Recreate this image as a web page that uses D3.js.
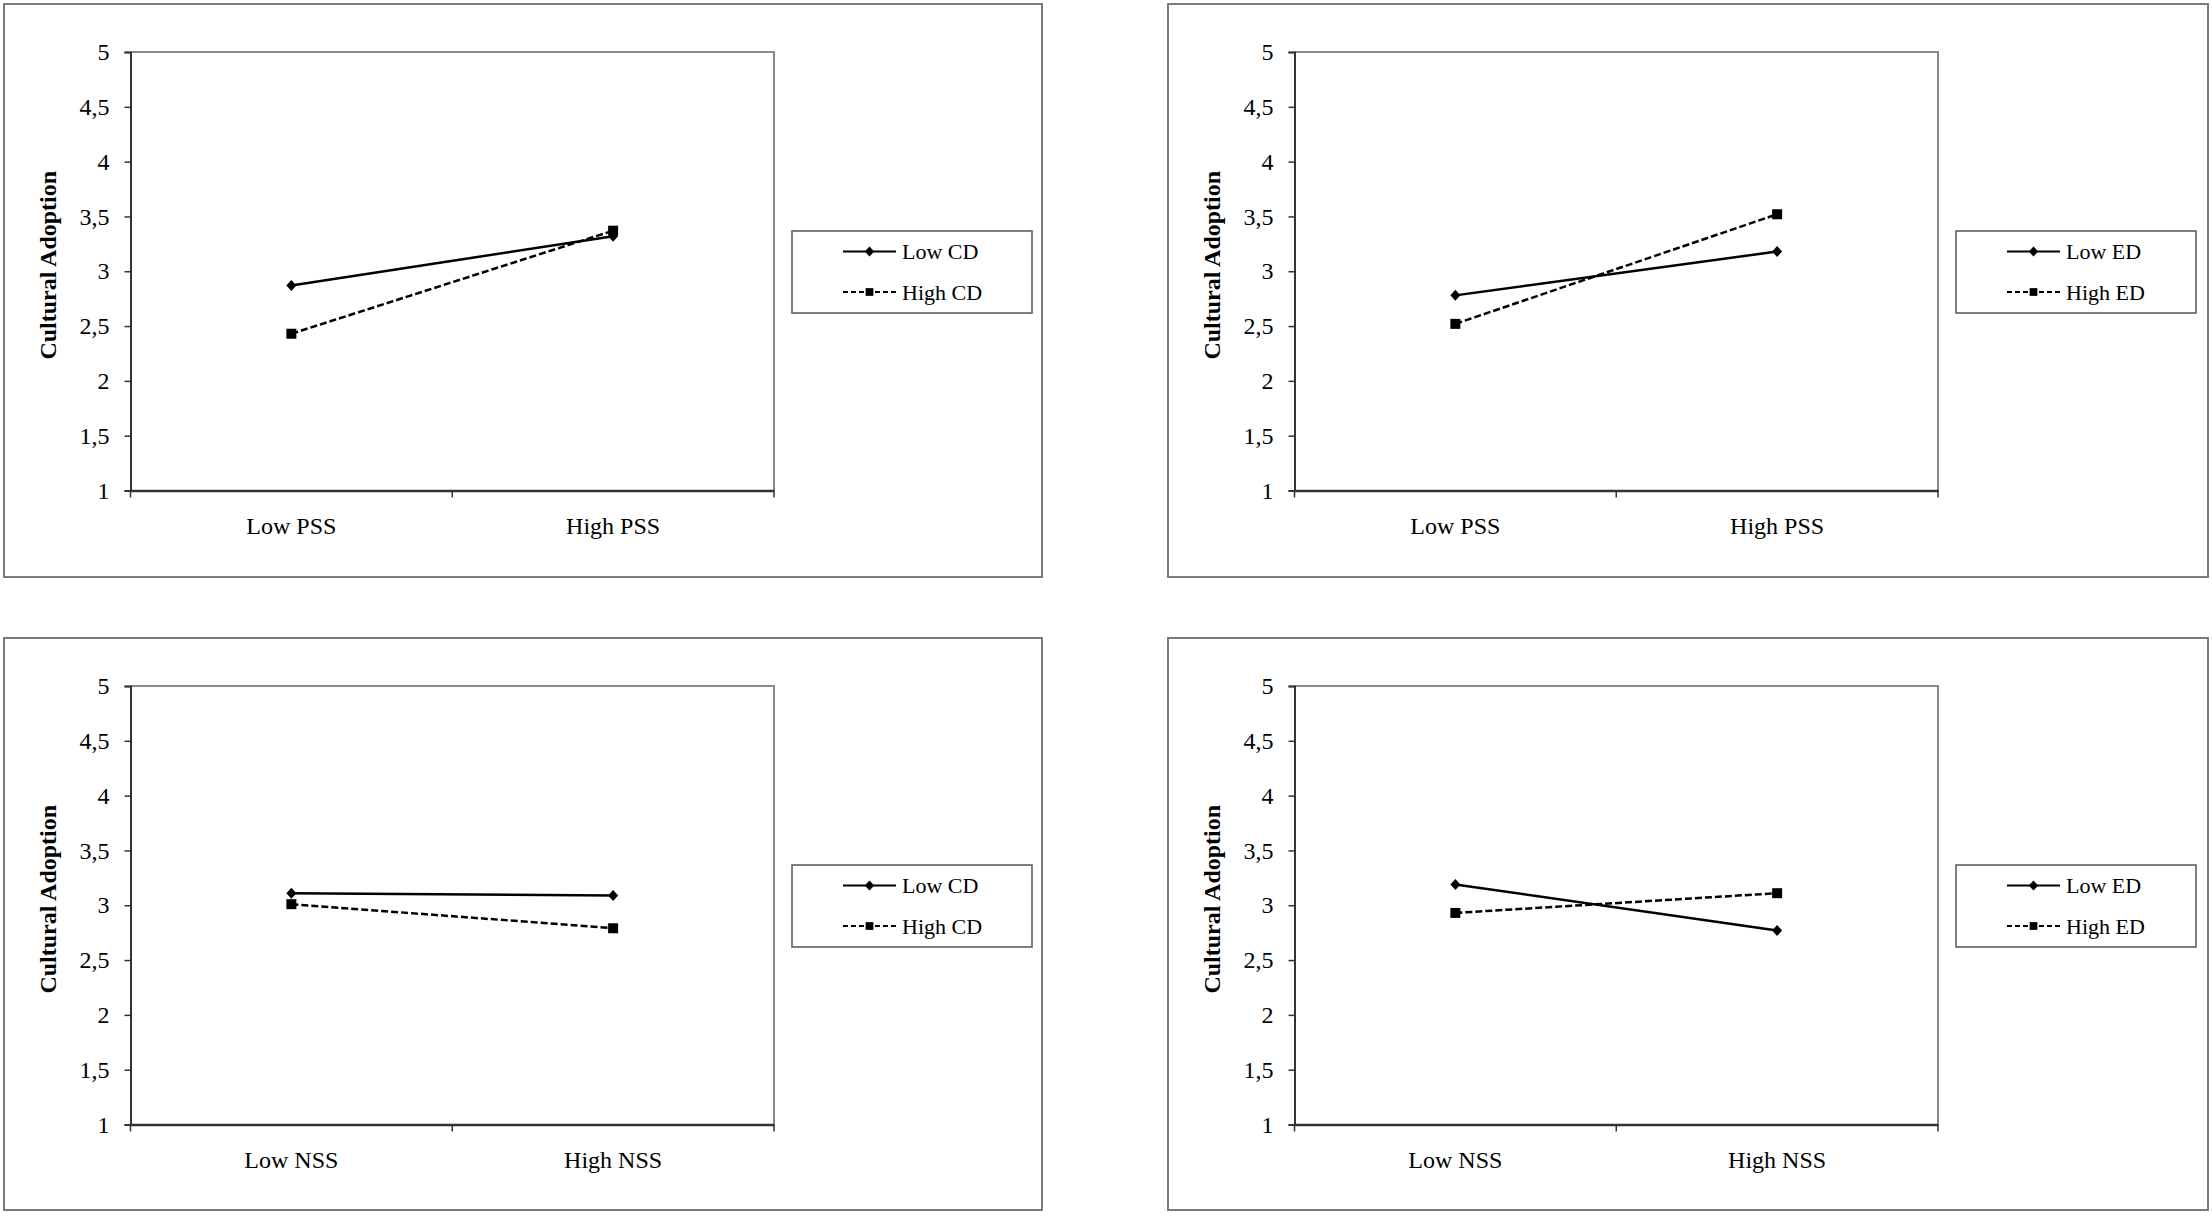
<!DOCTYPE html>
<html>
<head>
<meta charset="utf-8">
<script src="https://cdn.jsdelivr.net/npm/d3@7"></script>
<style>
  html, body { margin: 0; padding: 0; background: #ffffff; }
  svg { display: block; }
  text { font-family: "Liberation Serif", "Times New Roman", serif; fill: #000; }
</style>
</head>
<body>
<svg id="chart" width="2212" height="1216"></svg>
<script>
// ---------------- DATA ----------------
const catsPSS = ["Low PSS", "High PSS"];
const catsNSS = ["Low NSS", "High NSS"];
const yTickValues = [1, 1.5, 2, 2.5, 3, 3.5, 4, 4.5, 5];
const yTickLabels = ["1", "1,5", "2", "2,5", "3", "3,5", "4", "4,5", "5"];
const yTitle = "Cultural Adoption";

const seriesNamesCD = ["Low CD", "High CD"];
const seriesNamesED = ["Low ED", "High ED"];

// Panel A: PSS x CD
const lowCD_PSS  = [2.87, 3.32];
const highCD_PSS = [2.43, 3.37];
// Panel B: PSS x ED
const lowED_PSS  = [2.78, 3.18];
const highED_PSS = [2.52, 3.52];
// Panel C: NSS x CD
const lowCD_NSS  = [3.11, 3.09];
const highCD_NSS = [3.01, 2.79];
// Panel D: NSS x ED
const lowED_NSS  = [3.19, 2.77];
const highED_NSS = [2.93, 3.11];

const panels = [
  { cats: catsPSS, names: seriesNamesCD, series: [lowCD_PSS, highCD_PSS], col: 0, row: 0 },
  { cats: catsPSS, names: seriesNamesED, series: [lowED_PSS, highED_PSS], col: 1, row: 0 },
  { cats: catsNSS, names: seriesNamesCD, series: [lowCD_NSS, highCD_NSS], col: 0, row: 1 },
  { cats: catsNSS, names: seriesNamesED, series: [lowED_NSS, highED_NSS], col: 1, row: 1 }
];

// ---------------- LAYOUT ----------------
const boxX = [4, 1168], boxW = [1038, 1040];
const boxY = [4, 638], boxH = [573, 572];
const plotDX = 126.5, plotDY = 48, plotW = 643.5, plotH = 438.5;
const legDX = 18, legDY = 179, legW = 240, legH = 82;

const svg = d3.select("#chart");
const FONT = "Liberation Serif";

function diamondPath(cx, cy, rx, ry) {
  return `M${cx},${cy - ry}L${cx + rx},${cy}L${cx},${cy + ry}L${cx - rx},${cy}Z`;
}
const squareSym = d3.symbol().type(d3.symbolSquare).size(100);
const squareSymLeg = d3.symbol().type(d3.symbolSquare).size(60);

panels.forEach(p => {
  const bx = boxX[p.col], by = boxY[p.row], bw = boxW[p.col], bh = boxH[p.row];
  const g = svg.append("g");

  // outer frame
  g.append("rect").attr("x", bx).attr("y", by).attr("width", bw).attr("height", bh)
    .attr("fill", "#fff").attr("stroke", "#7a7a7a").attr("stroke-width", 2);

  const px = bx + plotDX, py = by + plotDY;

  const x = d3.scaleBand().domain(p.cats).range([px, px + plotW]).padding(0);
  const y = d3.scaleLinear().domain([1, 5]).range([py + plotH, py]);

  // plot area border (gray top & right)
  g.append("path")
    .attr("d", `M${px},${py}L${px + plotW},${py}L${px + plotW},${py + plotH}`)
    .attr("fill", "none").attr("stroke", "#8a8a8a").attr("stroke-width", 2);

  // Y axis
  const yAxis = d3.axisLeft(y).tickValues(yTickValues)
    .tickFormat((d, i) => yTickLabels[i]).tickSize(6).tickPadding(15);
  const ya = g.append("g").attr("transform", `translate(${px},0)`).call(yAxis);
  ya.select(".domain").attr("stroke", "#333").attr("stroke-width", 2);
  ya.selectAll(".tick line").attr("stroke", "#333").attr("stroke-width", 1.5);
  ya.selectAll(".tick text").attr("font-family", FONT).attr("font-size", 24).attr("fill", "#000");

  // X axis (category boundaries ticks)
  const xAxis = d3.axisBottom(x).tickSize(0).tickPadding(26);
  const xa = g.append("g").attr("transform", `translate(0,${py + plotH})`).call(xAxis);
  xa.select(".domain").attr("stroke", "#333").attr("stroke-width", 2.5);
  xa.selectAll(".tick text").attr("font-family", FONT).attr("font-size", 24).attr("fill", "#000");
  const bounds = [x.range()[0]].concat(p.cats.map(c => x(c) + x.bandwidth()));
  xa.selectAll(".bound").data(bounds).join("line").attr("class", "bound")
    .attr("x1", d => d).attr("x2", d => d).attr("y1", 0).attr("y2", 7)
    .attr("stroke", "#333").attr("stroke-width", 1.5);

  // Y title
  g.append("text")
    .attr("transform", `translate(${px - 75},${py + plotH / 2 - 6}) rotate(-90)`)
    .attr("text-anchor", "middle").attr("font-family", FONT).attr("font-weight", "bold")
    .attr("font-size", 24).text(yTitle);

  const cx = c => x(c) + x.bandwidth() / 2;

  // series lines
  p.series.forEach((vals, si) => {
    const line = d3.line().x((d, i) => cx(p.cats[i])).y(d => y(d));
    g.append("path").datum(vals).attr("d", line)
      .attr("fill", "none").attr("stroke", "#000").attr("stroke-width", 2.5)
      .attr("stroke-dasharray", si === 1 ? "7,3" : null);
  });
  // markers
  p.series.forEach((vals, si) => {
    vals.forEach((v, i) => {
      const mx = cx(p.cats[i]), my = y(v);
      if (si === 0) {
        g.append("path").attr("d", diamondPath(mx, my, 5, 5.5)).attr("fill", "#000");
      } else {
        g.append("path").attr("d", squareSym()).attr("transform", `translate(${mx},${my})`).attr("fill", "#000");
      }
    });
  });

  // legend
  const lx = px + plotW + legDX, ly = py + legDY;
  g.append("rect").attr("x", lx).attr("y", ly).attr("width", legW).attr("height", legH)
    .attr("fill", "#fff").attr("stroke", "#555").attr("stroke-width", 1.5);
  const rowsY = [ly + 20.5, ly + 61];
  p.names.forEach((name, si) => {
    const ry = rowsY[si];
    g.append("line").attr("x1", lx + 51).attr("x2", lx + 104).attr("y1", ry).attr("y2", ry)
      .attr("stroke", "#000").attr("stroke-width", 2)
      .attr("stroke-dasharray", si === 1 ? "5,3" : null);
    if (si === 0) {
      g.append("path").attr("d", diamondPath(lx + 77.5, ry, 4.7, 5)).attr("fill", "#000");
    } else {
      g.append("path").attr("d", squareSymLeg()).attr("transform", `translate(${lx + 77.5},${ry})`).attr("fill", "#000");
    }
    g.append("text").attr("x", lx + 110).attr("y", ry + 7.5)
      .attr("font-family", FONT).attr("font-size", 22).text(name);
  });
});
</script>
</body>
</html>
